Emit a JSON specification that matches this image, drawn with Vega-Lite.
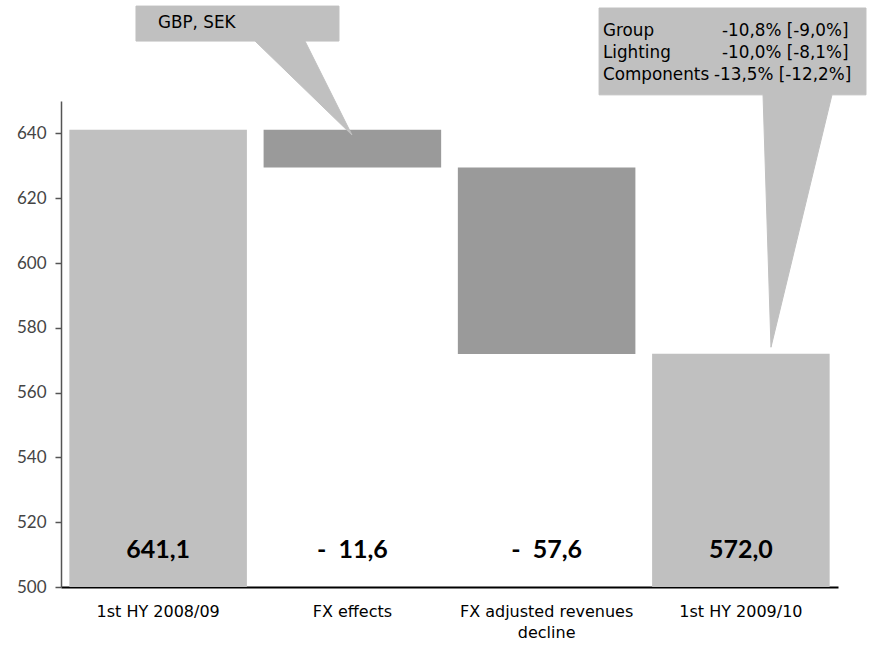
{
  "$schema": "https://vega.github.io/schema/vega-lite/v6.json",
  "width": 777,
  "height": 486,
  "autosize": {"type": "none"},
  "padding": {"left": 61, "top": 101, "right": 34, "bottom": 59},
  "background": "white",
  "config": {
    "view": {"stroke": null},
    "axisY": {
      "tickCount": 8,
      "grid": false,
      "domainColor": "#555555",
      "domainWidth": 1.5,
      "tickColor": "#555555",
      "tickSize": 6,
      "tickWidth": 1.5,
      "labelPadding": 9,
      "labelFont": "Lato",
      "labelFontSize": 17,
      "labelColor": "#444444"
    }
  },
  "datasets": {
    "bars": [
      {"step": "1st HY 2008/09", "low": 0, "high": 641.1, "kind": "total", "label": "641,1"},
      {"step": "FX effects", "low": 629.5, "high": 641.1, "kind": "change", "label": "-\u00a0\u00a011,6"},
      {"step": "FX adjusted revenues decline", "low": 571.9, "high": 629.5, "kind": "change", "label": "-\u00a0\u00a057,6"},
      {"step": "1st HY 2009/10", "low": 0, "high": 572.0, "kind": "total", "label": "572,0"}
    ],
    "callouts": [
      {"shape": "fx", "i": 0, "u": 0.386, "v": 679.3},
      {"shape": "fx", "i": 1, "u": 1.431, "v": 679.3},
      {"shape": "fx", "i": 2, "u": 1.431, "v": 668.5},
      {"shape": "fx", "i": 3, "u": 1.256, "v": 668.5},
      {"shape": "fx", "i": 4, "u": 1.498, "v": 639.5},
      {"shape": "fx", "i": 5, "u": 0.999, "v": 668.5},
      {"shape": "fx", "i": 6, "u": 0.386, "v": 668.5},
      {"shape": "segments", "i": 0, "u": 2.77, "v": 678.7},
      {"shape": "segments", "i": 1, "u": 4.144, "v": 678.7},
      {"shape": "segments", "i": 2, "u": 4.144, "v": 651.9},
      {"shape": "segments", "i": 3, "u": 3.969, "v": 651.9},
      {"shape": "segments", "i": 4, "u": 3.655, "v": 574.0},
      {"shape": "segments", "i": 5, "u": 3.614, "v": 651.9},
      {"shape": "segments", "i": 6, "u": 2.77, "v": 651.9}
    ],
    "notes": [
      {"text": "GBP, SEK", "u": 0.499, "v": 672.5},
      {"text": "Group", "u": 2.79, "v": 670.1},
      {"text": "-10,8% [-9,0%]", "u": 3.403, "v": 670.1},
      {"text": "Lighting", "u": 2.79, "v": 663.3},
      {"text": "-10,0% [-8,1%]", "u": 3.403, "v": 663.3},
      {"text": "Components", "u": 2.79, "v": 656.5},
      {"text": "-13,5% [-12,2%]", "u": 3.362, "v": 656.5}
    ]
  },
  "layer": [
    {
      "data": {"name": "bars"},
      "mark": {"type": "bar", "clip": true},
      "encoding": {
        "x": {
          "field": "step",
          "type": "nominal",
          "sort": null,
          "scale": {"paddingInner": 0.086, "paddingOuter": 0.043},
          "axis": {
            "title": null,
            "ticks": false,
            "labelAngle": 0,
            "labelFont": "DejaVu Sans",
            "labelFontSize": 16,
            "labelColor": "#000000",
            "labelPadding": 16,
            "labelLineHeight": 21,
            "labelLimit": 260,
            "domainColor": "#000000",
            "domainWidth": 2,
            "labelExpr": "datum.label == 'FX adjusted revenues decline' ? ['FX adjusted revenues', 'decline'] : datum.label"
          }
        },
        "y": {
          "field": "low",
          "type": "quantitative",
          "scale": {"domain": [500, 650], "nice": false, "zero": false},
          "title": null
        },
        "y2": {"field": "high"},
        "color": {
          "field": "kind",
          "type": "nominal",
          "scale": {"domain": ["total", "change"], "range": ["#c0c0c0", "#9a9a9a"]},
          "legend": null
        }
      }
    },
    {
      "data": {"name": "bars"},
      "mark": {"type": "text", "font": "Lato", "fontWeight": "bold", "fontSize": 25, "baseline": "alphabetic", "color": "#000000"},
      "encoding": {
        "x": {
          "field": "step",
          "type": "nominal",
          "sort": null,
          "scale": {"paddingInner": 0.086, "paddingOuter": 0.043},
          "axis": null
        },
        "y": {
          "datum": 509,
          "type": "quantitative",
          "scale": {"domain": [500, 650], "nice": false, "zero": false},
          "title": null
        },
        "text": {"field": "label"}
      }
    },
    {
      "data": {"name": "callouts"},
      "mark": {"type": "line", "interpolate": "linear-closed", "fill": "#c0c0c0", "stroke": "#c0c0c0", "strokeWidth": 1},
      "encoding": {
        "x": {"field": "u", "type": "quantitative", "scale": {"domain": [0, 4], "nice": false, "zero": false}, "axis": null},
        "y": {"field": "v", "type": "quantitative", "scale": {"domain": [500, 650], "nice": false, "zero": false}, "title": null},
        "detail": {"field": "shape"},
        "order": {"field": "i"}
      }
    },
    {
      "data": {"name": "notes"},
      "mark": {"type": "text", "align": "left", "baseline": "alphabetic", "font": "DejaVu Sans", "fontSize": 16.8, "color": "#000000"},
      "encoding": {
        "x": {"field": "u", "type": "quantitative", "scale": {"domain": [0, 4], "nice": false, "zero": false}, "axis": null},
        "y": {"field": "v", "type": "quantitative", "scale": {"domain": [500, 650], "nice": false, "zero": false}, "title": null},
        "text": {"field": "text"}
      }
    }
  ],
  "resolve": {"scale": {"x": "independent"}}
}
